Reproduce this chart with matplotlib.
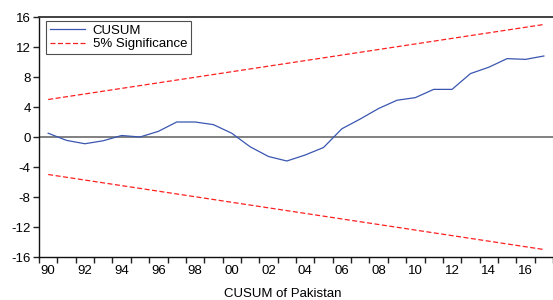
import numpy as np
import matplotlib
matplotlib.use("Agg")
import matplotlib.pyplot as plt

plt.rcParams['font.family'] = ['Liberation Sans', 'DejaVu Sans']

# CUSUM statistic, annual 1990-2017
years = np.arange(1990, 2018)
cusum = [0.5, -0.45, -0.9, -0.5, 0.2, 0.0, 0.75, 2.0, 2.0, 1.65,
         0.5, -1.3, -2.6, -3.2, -2.4, -1.4, 1.1, 2.4, 3.8, 4.9,
         5.25, 6.35, 6.35, 8.45, 9.3, 10.45, 10.35, 10.8]

# 5% significance bounds (straight lines between end years)
sig_years = [1990, 2017]
sig_upper = [5.0, 15.0]
sig_lower = [-5.0, -15.0]

ytick_vals = [16, 12, 8, 4, 0, -4, -8, -12, -16]
xlabel_years = np.arange(1990, 2018, 2)
xlabel_text = ['%02d' % (y % 100) for y in xlabel_years]

fs = 9.5

fig = plt.figure(figsize=(5.53, 3.0), dpi=100)
ax = fig.add_axes([39 / 553, 43 / 300, 1 - 39 / 553, 240 / 300])

ax.axhline(0, color='#808080', lw=1.4, zorder=1)
ax.plot(years, cusum, color='#3a56b0', lw=0.9, label='CUSUM', zorder=3)
ax.plot(sig_years, sig_upper, color='#ff2020', lw=0.9, ls=(0, (4, 2)),
        label='5% Significance', zorder=2)
ax.plot(sig_years, sig_lower, color='#ff2020', lw=0.9, ls=(0, (4, 2)), zorder=2)

ax.set_xlim(1989.5, 2017.37)
ax.set_ylim(-16, 16)

ax.set_yticks(ytick_vals)
ax.set_yticklabels([str(v) for v in ytick_vals])
ax.set_xticks(np.append(years - 0.5, years[-1] + 0.5))
ax.set_xticklabels([])
ax.set_xticks(xlabel_years, minor=True)
ax.set_xticklabels(xlabel_text, minor=True)

ax.tick_params(axis='both', which='major', direction='out', length=4,
               width=1, color='#222222', labelsize=fs, pad=2)
ax.tick_params(axis='x', which='minor', length=0, labelsize=fs, pad=6)

for side in ['left', 'bottom']:
    ax.spines[side].set_color('#111111')
    ax.spines[side].set_linewidth(1.0)
ax.spines['top'].set_color('#333333')
ax.spines['top'].set_linewidth(1.3)
ax.spines['right'].set_visible(False)

leg = ax.legend(loc='upper left', fontsize=fs, frameon=True, fancybox=False,
                edgecolor='#222222', borderpad=0.3, labelspacing=0.1,
                handlelength=2.7, handletextpad=0.55, borderaxespad=0,
                bbox_to_anchor=(0.013, 0.985))
leg.get_frame().set_linewidth(0.8)

fig.text(283 / 553, 1 - 294 / 300, 'CUSUM of Pakistan', ha='center',
         va='center', fontsize=fs)

fig.savefig('out.png', dpi=100)
